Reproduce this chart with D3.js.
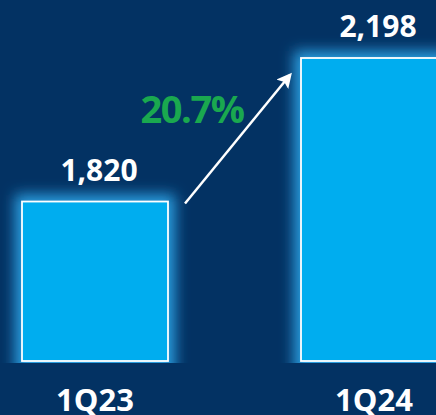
<!DOCTYPE html>
<html>
<head>
<meta charset="utf-8">
<script src="https://cdn.jsdelivr.net/npm/d3@7"></script>
<style>
  html, body { margin: 0; padding: 0; background: #033263; }
  svg { display: block; }
</style>
</head>
<body>
<svg id="chart"></svg>
<script>
// quarters and values
const quarters = ["1Q23", "1Q24"];
const values = [1820, 2198];
const valueLabels = ["1,820", "2,198"];
const growthLabel = "20.7%";

const width = 436, height = 415;
const baseY = 361;

const svg = d3.select("#chart")
  .attr("width", width)
  .attr("height", height);

svg.append("rect")
  .attr("width", width)
  .attr("height", height)
  .attr("fill", "#033263");

const x = d3.scaleBand()
  .domain(quarters)
  .range([22, 447])
  .paddingInner(0.4767)
  .paddingOuter(0);

// axis does not start at zero
const y = d3.scaleLinear()
  .domain([1400, 2198])
  .range([baseY, 58]);

const defs = svg.append("defs");
const glow = defs.append("filter")
  .attr("id", "glow")
  .attr("x", "-40%").attr("y", "-40%")
  .attr("width", "180%").attr("height", "180%");
glow.append("feGaussianBlur").attr("stdDeviation", 7);

defs.append("clipPath").attr("id", "clipBase")
  .append("rect")
  .attr("x", 0).attr("y", 0)
  .attr("width", width).attr("height", baseY + 2);

const data = quarters.map((q, i) => ({ q, v: values[i], label: valueLabels[i] }));

// glow behind bars
svg.append("g")
  .attr("clip-path", "url(#clipBase)")
  .selectAll("rect")
  .data(data)
  .enter()
  .append("rect")
  .attr("x", d => x(d.q) - 7)
  .attr("y", d => y(d.v) - 7)
  .attr("width", x.bandwidth() + 14)
  .attr("height", d => baseY - y(d.v) + 30)
  .attr("fill", "#2a9ee0")
  .attr("filter", "url(#glow)");

// bars
svg.selectAll(".bar")
  .data(data)
  .enter()
  .append("rect")
  .attr("class", "bar")
  .attr("x", d => x(d.q))
  .attr("y", d => y(d.v))
  .attr("width", x.bandwidth())
  .attr("height", d => baseY - y(d.v))
  .attr("fill", "#00adef")
  .attr("stroke", "#ffffff")
  .attr("stroke-width", 1.8);

// value labels
svg.selectAll(".val")
  .data(data)
  .enter()
  .append("text")
  .attr("class", "val")
  .attr("x", d => x(d.q) + x.bandwidth() / 2 + 4)
  .attr("y", d => y(d.v) - 21)
  .attr("text-anchor", "middle")
  .style("font-family", "'Open Sans', sans-serif")
  .style("font-weight", "bold")
  .style("font-size", "30px")
  .style("fill", "#ffffff")
  .text(d => d.label);

// category labels
svg.selectAll(".cat")
  .data(data)
  .enter()
  .append("text")
  .attr("class", "cat")
  .attr("x", d => x(d.q) + x.bandwidth() / 2)
  .attr("y", 411)
  .attr("text-anchor", "middle")
  .style("font-family", "'Open Sans', sans-serif")
  .style("font-weight", "bold")
  .style("font-size", "31px")
  .style("fill", "#ffffff")
  .text(d => d.q);

// growth arrow
defs.append("marker")
  .attr("id", "arrowhead")
  .attr("viewBox", "0 0 10 10")
  .attr("refX", 8).attr("refY", 5)
  .attr("markerWidth", 6).attr("markerHeight", 6)
  .attr("markerUnits", "strokeWidth")
  .attr("orient", "auto")
  .append("path")
  .attr("d", "M0,0 L10,5 L0,10 L2,5 Z")
  .attr("fill", "#ffffff");

const x1 = x(quarters[0]) + x.bandwidth() + 17;
const x2 = x(quarters[1]) - 11;
svg.append("line")
  .attr("x1", x1)
  .attr("y1", y(values[0]) + 2)
  .attr("x2", x2)
  .attr("y2", y(values[1]) + 17)
  .attr("stroke", "#ffffff")
  .attr("stroke-width", 2.5)
  .attr("marker-end", "url(#arrowhead)");

svg.append("text")
  .attr("x", 192)
  .attr("y", 123)
  .attr("text-anchor", "middle")
  .style("font-family", "'Open Sans', sans-serif")
  .style("font-weight", "bold")
  .style("font-size", "38px")
  .style("letter-spacing", "-1.5px")
  .style("fill", "#1aa84f")
  .text(growthLabel);
</script>
</body>
</html>
